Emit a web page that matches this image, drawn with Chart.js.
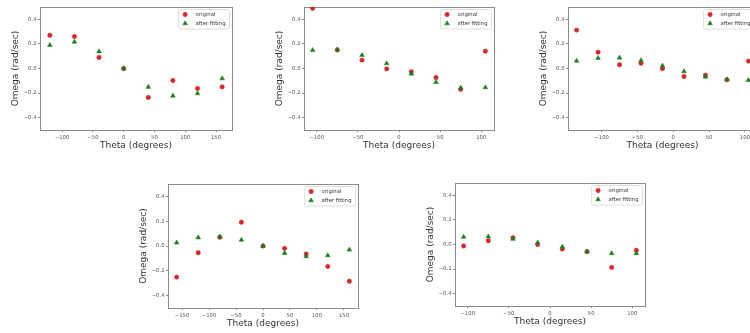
<!DOCTYPE html>
<html><head><meta charset="utf-8">
<script src="https://cdn.jsdelivr.net/npm/chart.js@4.4.0/dist/chart.umd.min.js"></script>
<style>
html,body{margin:0;padding:0;background:#fff;width:750px;height:333px;overflow:hidden;position:relative}
canvas{position:absolute}
</style></head><body>
<script>
// ---------- data ----------
const seriesNames = ['original', 'after fitting'];
const yTicks = [-0.4, -0.2, 0.0, 0.2, 0.4];
const xTitle = 'Theta (degrees)';
const yTitle = 'Omega (rad/sec)';

const theta1 = [-120, -80, -40, 0, 40, 80, 120, 160];
const orig1  = [0.27, 0.26, 0.09, 0.0, -0.235, -0.097, -0.162, -0.149];
const fit1   = [0.19, 0.216, 0.138, 0.0, -0.151, -0.222, -0.203, -0.081];
const xTicks1 = [-100, -50, 0, 50, 100, 150];

const theta2 = [-105, -75, -45, -15, 15, 45, 75, 105];
const orig2  = [0.489, 0.151, 0.068, -0.003, -0.027, -0.073, -0.17, 0.141];
const fit2   = [0.149, 0.154, 0.108, 0.041, -0.043, -0.111, -0.157, -0.154];
const xTicks2 = [-100, -50, 0, 50, 100];

const theta3 = [-135, -105, -75, -45, -15, 15, 45, 75, 105];
const orig3  = [0.312, 0.133, 0.03, 0.043, 0.0, -0.065, -0.054, -0.092, 0.06];
const fit3   = [0.062, 0.084, 0.087, 0.065, 0.022, -0.024, -0.068, -0.089, -0.095];
const xTicks3 = [-100, -50, 0, 50, 100];

const theta4 = [-160, -120, -80, -40, 0, 40, 80, 120, 160];
const orig4  = [-0.251, -0.054, 0.07, 0.192, 0.0, -0.019, -0.065, -0.165, -0.284];
const fit4   = [0.027, 0.068, 0.076, 0.049, 0.0, -0.057, -0.084, -0.076, -0.03];
const xTicks4 = [-150, -100, -50, 0, 50, 100, 150];

const theta5 = [-105, -75, -45, -15, 15, 45, 75, 105];
const orig5  = [-0.012, 0.031, 0.056, -0.001, -0.037, -0.058, -0.186, -0.047];
const fit5   = [0.061, 0.064, 0.045, 0.015, -0.02, -0.058, -0.072, -0.072];
const xTicks5 = [-100, -50, 0, 50, 100];

// ---------- layout / style ----------
const FONT = '"DejaVu Sans", sans-serif';
const TICK_FS = 5.3, TITLE_FS = 9, LEG_FS = 5.3;
const RED = '#d62728', GREEN = '#1a7f1a', SPINE = '#8a8a8a';
const YW = 40, XH = 32, PT = 6, PR = 6;

const panels = [
  {L: 40,  R: 232, T: 7,   B: 130, xr: [-136, 176],     th: theta1, o: orig1, f: fit1, xt: xTicks1},
  {L: 304, R: 494, T: 7,   B: 130, xr: [-115.5, 115.5], th: theta2, o: orig2, f: fit2, xt: xTicks2},
  {L: 568, R: 757, T: 7,   B: 130, xr: [-147, 117],     th: theta3, o: orig3, f: fit3, xt: xTicks3},
  {L: 168, R: 358, T: 184, B: 308, xr: [-176, 176],     th: theta4, o: orig4, f: fit4, xt: xTicks4},
  {L: 455, R: 645, T: 183, B: 306, xr: [-115.5, 115.5], th: theta5, o: orig5, f: fit5, xt: xTicks5}
];

const minus = s => String(s).replace('-', '\u2212');

const insideLegend = {
  id: 'insideLegend',
  afterDatasetsDraw(chart) {
    const {ctx, chartArea} = chart;
    const ds = chart.data.datasets;
    ctx.save();
    ctx.font = LEG_FS + 'px ' + FONT;
    let tw = 0;
    ds.forEach(d => { tw = Math.max(tw, ctx.measureText(d.label).width); });
    const w = 17 + tw + 4, h = 19.5;
    const x0 = chartArea.right - 2.5 - w, y0 = chartArea.top + 2.5;
    ctx.beginPath();
    if (ctx.roundRect) ctx.roundRect(x0, y0, w, h, 2); else ctx.rect(x0, y0, w, h);
    ctx.fillStyle = 'rgba(255,255,255,0.8)';
    ctx.fill();
    ctx.lineWidth = 0.8;
    ctx.strokeStyle = '#d4d4d4';
    ctx.stroke();
    ds.forEach((d, i) => {
      const y = y0 + 5 + i * 9;
      ctx.fillStyle = d.backgroundColor;
      ctx.strokeStyle = d.borderColor;
      ctx.lineWidth = d.borderWidth;
      Chart.helpers.drawPoint(ctx, {pointStyle: d.pointStyle, rotation: 0, radius: d.pointRadius, borderWidth: d.borderWidth}, x0 + 6.5, y);
      ctx.fillStyle = '#333';
      ctx.textBaseline = 'middle';
      ctx.textAlign = 'left';
      ctx.fillText(d.label, x0 + 17, y);
    });
    ctx.restore();
  }
};

panels.forEach((p, idx) => {
  const c = document.createElement('canvas');
  const w = (p.R - p.L) + YW + PR, h = (p.B - p.T) + PT + XH;
  c.width = w; c.height = h;
  c.style.left = (p.L - YW) + 'px';
  c.style.top = (p.T - PT) + 'px';
  c.style.width = w + 'px'; c.style.height = h + 'px';
  document.body.appendChild(c);

  const pts = arr => p.th.map((t, i) => ({x: t, y: arr[i]}));

  new Chart(c, {
    type: 'scatter',
    data: {
      datasets: [
        {label: seriesNames[0], data: pts(p.o), pointStyle: 'circle', pointRadius: 2.2,
         backgroundColor: RED, borderColor: RED, borderWidth: 0.5, order: 1},
        {label: seriesNames[1], data: pts(p.f), pointStyle: 'triangle', pointRadius: 2.7,
         backgroundColor: GREEN, borderColor: GREEN, borderWidth: 0.5, order: 0}
      ]
    },
    plugins: [insideLegend],
    options: {
      responsive: false,
      devicePixelRatio: 1,
      animation: false,
      layout: {padding: {left: 0, top: PT, right: PR, bottom: 0}},
      plugins: {legend: {display: false}, tooltip: {enabled: false}},
      scales: {
        x: {
          type: 'linear', position: 'bottom', min: p.xr[0], max: p.xr[1],
          afterBuildTicks: s => { s.ticks = p.xt.map(v => ({value: v})); },
          afterFit: s => { s.height = XH; s.paddingLeft = 0; s.paddingRight = 0; },
          grid: {display: true, drawOnChartArea: false, drawTicks: true, tickLength: 2, tickColor: '#666', tickWidth: 0.8},
          border: {display: true, color: SPINE, width: 1},
          ticks: {color: '#555', font: {family: FONT, size: TICK_FS}, padding: 2, maxRotation: 0, autoSkip: false,
                  callback: v => minus(v)},
          title: {display: true, text: xTitle, color: '#333', font: {family: FONT, size: TITLE_FS}, padding: {top: 0, bottom: 10.6}}
        },
        y: {
          type: 'linear', position: 'left', min: -0.5, max: 0.5,
          afterBuildTicks: s => { s.ticks = yTicks.map(v => ({value: v})); },
          afterFit: s => { s.width = YW; s.paddingTop = 0; s.paddingBottom = 0; },
          grid: {display: true, drawOnChartArea: false, drawTicks: true, tickLength: 2, tickColor: '#666', tickWidth: 0.8},
          border: {display: true, color: SPINE, width: 1},
          ticks: {color: '#555', font: {family: FONT, size: TICK_FS}, padding: 1.5,
                  callback: v => minus(Number(v).toFixed(1))},
          title: {display: true, text: yTitle, color: '#333', font: {family: FONT, size: TITLE_FS}, padding: {top: 10.1, bottom: 0}}
        },
        x2: {
          type: 'linear', position: 'top', display: true,
          grid: {display: false}, ticks: {display: false},
          border: {display: true, color: SPINE, width: 1},
          afterFit: s => { s.height = 0; }
        },
        y2: {
          type: 'linear', position: 'right', display: true,
          grid: {display: false}, ticks: {display: false},
          border: {display: true, color: SPINE, width: 1},
          afterFit: s => { s.width = 0; }
        }
      }
    }
  });
});
</script>
</body></html>
